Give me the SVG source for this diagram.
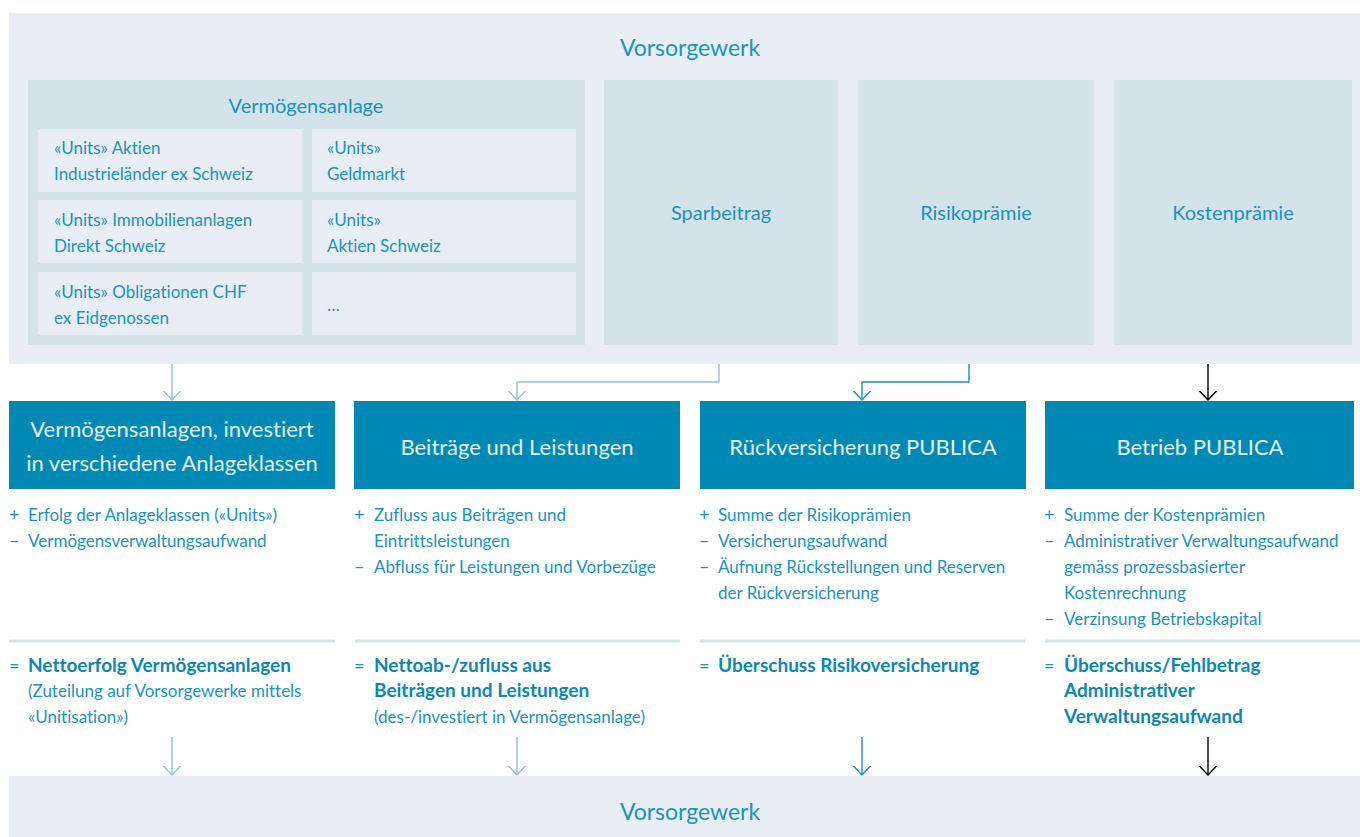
<svg xmlns="http://www.w3.org/2000/svg" width="1360" height="837" viewBox="0 0 1360 837">
<defs>
<style>
text{font-variant-ligatures:none}
.bgL{fill:#E9EEF6}
.bgM{fill:#D4E2EA}
.head{fill:#0089B4}
.t{font-family:Lato,"Open Sans","Liberation Sans",sans-serif;fill:#1A93C0}
.title{font-size:23px;text-anchor:middle}
.sub{font-size:20px;text-anchor:middle}
.unit{font-size:17px}
.hd{font-family:Lato,"Open Sans","Liberation Sans",sans-serif;fill:#E4F2F8;font-size:22px;text-anchor:middle}
.li{font-size:17px}
.sg{font-size:18px}
.res{font-size:19px;font-weight:bold;fill:#0B88B2}
.sep{stroke:#D4E2EA;stroke-width:3}
.cl{fill:none;stroke:#8FC1DA;stroke-width:1.4}
.cm{fill:none;stroke:#1A8FBA;stroke-width:1.4}
.ck{fill:none;stroke:#000;stroke-width:1.4}
</style>
<marker id="aL" viewBox="0 0 10 20" refX="9.5" refY="10" markerWidth="10" markerHeight="20" markerUnits="userSpaceOnUse" orient="auto"><path d="M0,1 L9.5,10 L0,19" fill="none" stroke="#8FC1DA" stroke-width="1.4"/></marker>
<marker id="aM" viewBox="0 0 10 20" refX="9.5" refY="10" markerWidth="10" markerHeight="20" markerUnits="userSpaceOnUse" orient="auto"><path d="M0,1 L9.5,10 L0,19" fill="none" stroke="#1A8FBA" stroke-width="1.4"/></marker>
<marker id="aK" viewBox="0 0 10 20" refX="9.5" refY="10" markerWidth="10" markerHeight="20" markerUnits="userSpaceOnUse" orient="auto"><path d="M0,1 L9.5,10 L0,19" fill="none" stroke="#000" stroke-width="1.4"/></marker>
</defs>
<rect width="1360" height="837" fill="#fff"/>

<g id="vorsorgewerk-top">
<rect class="bgL" x="9" y="13" width="1351" height="351"/>
<text class="t title" x="690" y="56">Vorsorgewerk</text>
</g>

<g id="vermoegensanlage">
<rect class="bgM" x="28" y="80" width="557" height="265"/>
<text class="t sub" x="306" y="113">Vermögensanlage</text>
</g>
<g id="unit-aktien-ind">
<rect class="bgL" x="38" y="129" width="264" height="63"/>
<text class="t unit" x="54" y="154">«Units» Aktien</text>
<text class="t unit" x="54" y="180">Industrieländer ex Schweiz</text>
</g>
<g id="unit-geldmarkt">
<rect class="bgL" x="312" y="129" width="264" height="63"/>
<text class="t unit" x="327" y="154">«Units»</text>
<text class="t unit" x="327" y="180">Geldmarkt</text>
</g>
<g id="unit-immo">
<rect class="bgL" x="38" y="200" width="264" height="63"/>
<text class="t unit" x="54" y="226">«Units» Immobilienanlagen</text>
<text class="t unit" x="54" y="252">Direkt Schweiz</text>
</g>
<g id="unit-aktien-ch">
<rect class="bgL" x="312" y="200" width="264" height="63"/>
<text class="t unit" x="327" y="226">«Units»</text>
<text class="t unit" x="327" y="252">Aktien Schweiz</text>
</g>
<g id="unit-oblig">
<rect class="bgL" x="38" y="272" width="264" height="63"/>
<text class="t unit" x="54" y="298">«Units» Obligationen CHF</text>
<text class="t unit" x="54" y="324">ex Eidgenossen</text>
</g>
<g id="unit-more">
<rect class="bgL" x="312" y="272" width="264" height="63"/>
<text class="t unit" x="327" y="311" letter-spacing="2">…</text>
</g>

<g id="sparbeitrag">
<rect class="bgM" x="604" y="80" width="234" height="265"/>
<text class="t sub" x="721" y="220">Sparbeitrag</text>
</g>
<g id="risikopraemie">
<rect class="bgM" x="858" y="80" width="236" height="265"/>
<text class="t sub" x="976" y="220">Risikoprämie</text>
</g>
<g id="kostenpraemie">
<rect class="bgM" x="1114" y="80" width="238" height="265"/>
<text class="t sub" x="1233" y="220">Kostenprämie</text>
</g>

<g id="col-vermoegensanlagen">
<rect class="head" x="9" y="401" width="326" height="88"/>
<text class="hd" x="172" y="437">Vermögensanlagen, investiert</text>
<text class="hd" x="172" y="471">in verschiedene Anlageklassen</text>
<text class="t sg" x="9" y="521">+</text><text class="t li" x="28" y="521">Erfolg der Anlageklassen («Units»)</text>
<text class="t sg" x="9" y="547">–</text><text class="t li" x="28" y="547">Vermögensverwaltungsaufwand</text>
<line class="sep" x1="9" y1="641" x2="335" y2="641"/>
<text class="t sg" x="9" y="672">=</text><text class="t res" x="28" y="672">Nettoerfolg Vermögensanlagen</text>
<text class="t li" x="28" y="697">(Zuteilung auf Vorsorgewerke mittels</text>
<text class="t li" x="28" y="723">«Unitisation»)</text>
</g>

<g id="col-beitraege">
<rect class="head" x="354" y="401" width="326" height="88"/>
<text class="hd" x="517" y="455">Beiträge und Leistungen</text>
<text class="t sg" x="354" y="521">+</text><text class="t li" x="374" y="521">Zufluss aus Beiträgen und</text>
<text class="t li" x="374" y="547">Eintrittsleistungen</text>
<text class="t sg" x="354" y="573">–</text><text class="t li" x="374" y="573">Abfluss für Leistungen und Vorbezüge</text>
<line class="sep" x1="355" y1="641" x2="680" y2="641"/>
<text class="t sg" x="354" y="672">=</text><text class="t res" x="374" y="672">Nettoab-/zufluss aus</text>
<text class="t res" x="374" y="697">Beiträgen und Leistungen</text>
<text class="t li" x="374" y="723">(des-/investiert in Vermögensanlage)</text>
</g>

<g id="col-rueckversicherung">
<rect class="head" x="700" y="401" width="326" height="88"/>
<text class="hd" x="863" y="455">Rückversicherung PUBLICA</text>
<text class="t sg" x="699" y="521">+</text><text class="t li" x="718" y="521">Summe der Risikoprämien</text>
<text class="t sg" x="699" y="547">–</text><text class="t li" x="718" y="547">Versicherungsaufwand</text>
<text class="t sg" x="699" y="573">–</text><text class="t li" x="718" y="573">Äufnung Rückstellungen und Reserven</text>
<text class="t li" x="718" y="599">der Rückversicherung</text>
<line class="sep" x1="700" y1="641" x2="1025" y2="641"/>
<text class="t sg" x="699" y="672">=</text><text class="t res" x="718" y="672">Überschuss Risikoversicherung</text>
</g>

<g id="col-betrieb">
<rect class="head" x="1045" y="401" width="309" height="88"/>
<text class="hd" x="1200" y="455">Betrieb PUBLICA</text>
<text class="t sg" x="1044" y="521">+</text><text class="t li" x="1064" y="521">Summe der Kostenprämien</text>
<text class="t sg" x="1044" y="547">–</text><text class="t li" x="1064" y="547">Administrativer Verwaltungsaufwand</text>
<text class="t li" x="1064" y="573">gemäss prozessbasierter</text>
<text class="t li" x="1064" y="599">Kostenrechnung</text>
<text class="t sg" x="1044" y="625">–</text><text class="t li" x="1064" y="625">Verzinsung Betriebskapital</text>
<line class="sep" x1="1045" y1="641" x2="1360" y2="641"/>
<text class="t sg" x="1044" y="672">=</text><text class="t res" x="1064" y="672">Überschuss/Fehlbetrag</text>
<text class="t res" x="1064" y="697">Administrativer</text>
<text class="t res" x="1064" y="723">Verwaltungsaufwand</text>
</g>

<g id="vorsorgewerk-bottom">
<rect class="bgL" x="9" y="776" width="1351" height="61"/>
<text class="t title" x="690" y="820">Vorsorgewerk</text>
</g>

<g id="connectors">
<path class="cl" d="M172,364 V400" marker-end="url(#aL)"/>
<path class="cl" d="M719,364 V382 H517 V400" marker-end="url(#aL)"/>
<path class="cm" d="M969,364 V382 H862 V400" marker-end="url(#aM)"/>
<path class="ck" d="M1208,364 V400" marker-end="url(#aK)"/>
<path class="cl" d="M172,737 V775" marker-end="url(#aL)"/>
<path class="cl" d="M517,737 V775" marker-end="url(#aL)"/>
<path class="cm" d="M862,737 V775" marker-end="url(#aM)"/>
<path class="ck" d="M1208,737 V775" marker-end="url(#aK)"/>
</g>
</svg>
